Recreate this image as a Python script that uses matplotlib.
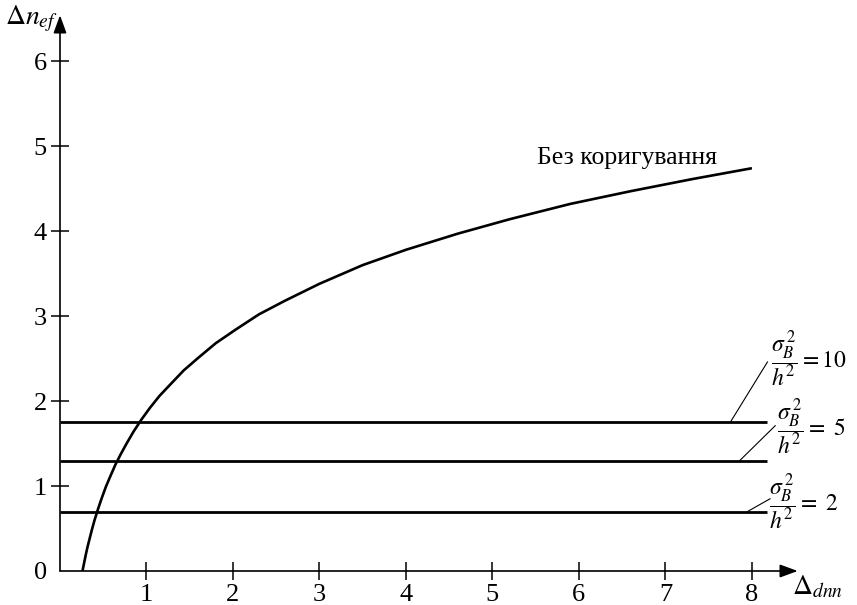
import matplotlib
matplotlib.use("Agg")
import matplotlib.pyplot as plt

plt.rcParams["font.family"] = ["Liberation Serif", "DejaVu Serif"]
plt.rcParams["mathtext.fontset"] = "stix"

# curve without correction
dnn = [0.26, 0.28, 0.30, 0.32, 0.34, 0.37, 0.40, 0.44, 0.48, 0.53, 0.58,
       0.64, 0.70, 0.77, 0.85, 0.94, 1.04, 1.15, 1.28, 1.43, 1.6, 1.8,
       2.03, 2.3, 2.6, 3.0, 3.5, 4.0, 4.6, 5.2, 5.9, 6.6, 7.3, 8.0]
nef = [0.0, 0.10, 0.20, 0.29, 0.37, 0.49, 0.60, 0.73, 0.85, 0.99, 1.11,
       1.25, 1.37, 1.50, 1.64, 1.78, 1.92, 2.06, 2.20, 2.36, 2.51, 2.68,
       2.84, 3.02, 3.18, 3.38, 3.60, 3.78, 3.97, 4.14, 4.32, 4.47, 4.61,
       4.74]

# constant levels for sigma_B^2 / h^2 = 10, 5, 2
ratios = ["10", r"\ 5", r"\ 2"]
levels = [1.75, 1.30, 0.70]
level_end = 8.17

xticks = [1, 2, 3, 4, 5, 6, 7, 8]
yticks = [0, 1, 2, 3, 4, 5, 6]

fig = plt.figure(figsize=(8.57, 6.05), dpi=100)
ax = fig.add_axes([0.070, 0.0562, 0.878, 0.927])
ax.set_xlim(0, 8.7)
ax.set_ylim(0, 6.6)
for s in ax.spines.values():
    s.set_visible(False)

# axes with arrows
arrow = dict(arrowstyle="-|>,head_length=0.6,head_width=0.22", color="k",
             lw=1.2, mutation_scale=18, shrinkA=0, shrinkB=0)
ax.annotate("", xy=(8.53, 0), xytext=(0, 0), arrowprops=arrow,
            annotation_clip=False)
ax.annotate("", xy=(0, 6.54), xytext=(0, 0), arrowprops=arrow,
            annotation_clip=False)

ax.set_xticks(xticks)
ax.set_yticks(yticks)
ax.tick_params(direction="inout", length=13, width=1.1, labelsize=19,
               pad=3)
ax.yaxis.get_major_ticks()[0].tick1line.set_visible(False)

ax.plot(dnn, nef, color="k", lw=1.9, solid_capstyle="butt")
ax.text(5.51, 4.79, "Без коригування", fontsize=18.5, ha="left",
        va="baseline")

leaders = [((7.75, 1.75), (8.18, 2.46), (8.22, 2.49)),
           ((7.86, 1.30), (8.27, 1.71), (8.29, 1.69)),
           ((7.95, 0.70), (8.21, 0.85), (8.20, 0.81))]
for r, lv, (p0, p1, tp) in zip(ratios, levels, leaders):
    ax.plot([0, level_end], [lv, lv], color="k", lw=2.0,
            solid_capstyle="butt")
    ax.plot([p0[0], p1[0]], [p0[1], p1[1]], color="k", lw=0.8)
    ax.text(tp[0], tp[1], r"$\dfrac{\sigma_B^{\,2}}{h^2} = %s$" % r,
            fontsize=17, ha="left", va="center", clip_on=False)

ax.text(-0.03, 6.5, r"$\Delta n_{ef}$", fontsize=20, ha="right",
        va="center", clip_on=False)
ax.text(8.46, -0.19, r"$\Delta_{dnn}$", fontsize=20, ha="left",
        va="center", clip_on=False)

fig.savefig("out.png", dpi=100)
